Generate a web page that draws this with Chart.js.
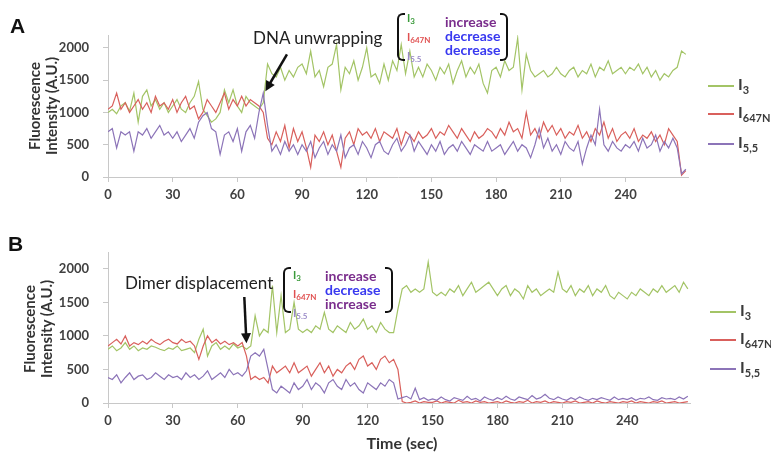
<!DOCTYPE html>
<html>
<head>
<meta charset="utf-8">
<script src="https://cdn.jsdelivr.net/npm/chart.js@4.4.1/dist/chart.umd.min.js"></script>
<style>
body{margin:0;background:#fff;width:771px;height:455px;position:relative;overflow:hidden;font-family:Lato,'Open Sans',sans-serif;color:#333}
canvas{position:absolute;left:0}
.t{position:absolute;white-space:nowrap;line-height:1}
.ytitle{position:absolute;white-space:nowrap;font-weight:bold;font-size:15px;line-height:17px;text-align:center;color:#333;transform:translate(-50%,-50%) rotate(-90deg)}
.leg{position:absolute;width:26px;height:2px}
.legt{position:absolute;font-size:16px;font-weight:bold;color:#3a3a3a;line-height:18px}
.legt sub{font-size:11px;vertical-align:-4px}
.brl,.brr{position:absolute;width:6px;border:2px solid #111}
.brl{border-right:none;border-radius:6px 0 0 6px}
.brr{border-left:none;border-radius:0 6px 6px 0}
.c1{position:absolute;font-size:11px;font-weight:bold;line-height:15px}
.c1 sub{font-size:8px;vertical-align:-2px}
.c2{position:absolute;font-size:14px;font-weight:bold;line-height:14px}
.inc{color:#7a2d8c}.dec{color:#3838f0}
</style>
</head>
<body>
<canvas id="ca" width="771" height="210" style="top:0"></canvas>
<canvas id="cb" width="771" height="245" style="top:210px"></canvas>

<div class="t" style="left:10px;top:14px;font:bold 21px 'Liberation Sans',Arial,sans-serif;color:#111">A</div>
<div class="t" style="left:8px;top:232px;font:bold 21px 'Liberation Sans',Arial,sans-serif;color:#111">B</div>

<div class="ytitle" style="left:43px;top:106px">Fluorescence<br>Intensity (A.U.)</div>
<div class="ytitle" style="left:38px;top:329px">Fluorescence<br>Intensity (A.U.)</div>
<div class="t" style="left:402px;top:443px;transform:translate(-50%,-50%);font-size:16px;font-weight:bold;color:#333">Time (sec)</div>

<!-- panel A notes -->
<div class="t" style="left:253px;top:29px;font-size:17px;color:#222">DNA unwrapping</div>
<div class="brl" style="left:397px;top:13px;height:44px"></div>
<div class="c1" style="left:407px;top:10px"><span style="color:#3a9a3a">I<sub>3</sub></span><br><span style="color:#e05050">I<sub>647N</sub></span><br><span style="color:#9a8ac8">I<sub>5.5</sub></span></div>
<div class="c2" style="left:445px;top:15px"><span class="inc">increase</span><br><span class="dec">decrease</span><br><span class="dec">decrease</span></div>
<div class="brr" style="left:500px;top:13px;height:44px"></div>

<!-- panel B notes -->
<div class="t" style="left:125px;top:274px;font-size:17px;color:#222">Dimer displacement</div>
<div class="brl" style="left:283px;top:267px;height:42px"></div>
<div class="c1" style="left:293px;top:267px"><span style="color:#3a9a3a">I<sub>3</sub></span><br><span style="color:#e05050">I<sub>647N</sub></span><br><span style="color:#9a8ac8">I<sub>5.5</sub></span></div>
<div class="c2" style="left:325px;top:269px"><span class="inc">increase</span><br><span class="dec">decrease</span><br><span class="inc">increase</span></div>
<div class="brr" style="left:385px;top:267px;height:42px"></div>

<!-- legends -->
<div class="leg" style="left:708px;top:85px;background:#a3c466"></div>
<div class="legt" style="left:738px;top:75px">I<sub>3</sub></div>
<div class="leg" style="left:708px;top:113px;background:#d9605c"></div>
<div class="legt" style="left:738px;top:103px">I<sub>647N</sub></div>
<div class="leg" style="left:708px;top:143px;background:#8c74b8"></div>
<div class="legt" style="left:738px;top:133px">I<sub>5,5</sub></div>

<div class="leg" style="left:710px;top:311px;background:#a3c466"></div>
<div class="legt" style="left:740px;top:301px">I<sub>3</sub></div>
<div class="leg" style="left:710px;top:339px;background:#d9605c"></div>
<div class="legt" style="left:740px;top:329px">I<sub>647N</sub></div>
<div class="leg" style="left:710px;top:368px;background:#8c74b8"></div>
<div class="legt" style="left:740px;top:358px">I<sub>5,5</sub></div>

<script>
// samples every 2 s, 0..268 s (one row = 30 s)
const STEP = 2;

const greenA = [
  1000,1050,980,1100,1150,1020,1300,850,1250,1350,1100,1200,1050,1150,1000,
  1100,1200,1050,1000,1150,1250,1480,1050,950,850,900,1000,1350,1150,1350,
  1100,1000,1250,1150,1100,1050,1150,1750,1600,1550,1700,1500,1650,1550,1700,
  1750,1600,1950,1550,1650,1400,1700,1750,2050,1350,1700,1600,1800,1500,1700,
  2000,1550,1600,1450,1750,1500,1800,1650,2050,1600,1950,1550,1700,1550,1750,
  1650,1500,1700,1600,1750,1450,1650,1800,1550,1700,1600,1750,1450,1300,1650,
  1700,1550,1800,1650,1700,2150,1350,1900,1650,1550,1600,1650,1550,1600,1700,
  1600,1550,1650,1700,1550,1650,1600,1750,1550,1700,1650,1800,1600,1650,1700,
  1600,1700,1650,1750,1600,1700,1550,1650,1500,1600,1550,1650,1700,1950,1900
];
const redA = [
  1050,1100,1300,1050,1150,1000,1100,1200,1050,1150,1000,1250,1100,1150,1050,
  1200,1000,1150,1250,1050,1100,900,1000,1200,1100,1000,1150,1300,1050,1200,
  1100,1250,1100,1200,1150,1100,1000,600,500,700,550,800,450,750,550,
  700,450,150,650,550,700,500,650,400,150,600,700,500,750,650,
  700,600,750,550,700,650,600,750,500,700,650,550,700,600,650,
  750,600,700,650,800,700,600,750,650,550,700,600,650,750,700,
  600,750,650,850,700,750,600,1000,650,750,600,850,700,800,650,
  750,600,700,650,800,600,700,550,750,650,850,600,750,550,650,
  700,600,750,550,650,600,700,550,650,500,750,650,550,30,100
];
const purpleA = [
  700,750,450,700,650,700,400,700,650,750,600,700,800,650,700,
  600,700,550,650,750,600,850,950,1000,750,700,350,650,700,550,
  750,400,700,800,600,1000,1300,800,400,500,350,550,400,500,350,
  500,400,550,300,450,550,350,500,400,650,300,450,500,350,550,
  450,300,500,550,400,350,500,600,400,500,650,400,550,450,350,
  500,400,550,350,450,500,400,550,450,350,500,450,400,550,400,
  450,500,350,450,550,400,500,450,300,500,750,450,600,400,500,
  350,550,450,400,550,200,450,650,500,1050,500,400,550,450,400,
  500,450,550,400,600,450,500,650,400,550,450,600,450,50,120
];

const greenB = [
  800,850,780,820,900,800,850,780,820,800,850,830,800,780,820,
  800,850,780,800,820,750,950,1100,700,850,900,800,850,800,880,
  820,850,800,850,1300,1000,1100,1050,1750,1050,1600,1050,1100,1500,1100,
  1050,1100,1050,1150,1100,1350,1100,1050,1150,1100,1050,1200,1100,1150,1250,
  1100,1150,1050,1200,1100,1050,1050,1400,1700,1750,1650,1700,1650,1700,2100,
  1650,1600,1650,1600,1700,1650,1750,1600,1700,1800,1650,1700,1750,1800,1700,
  1600,1700,1750,1600,1700,1650,1550,1750,1650,1700,1600,1650,1700,1650,1950,
  1700,1650,1750,1600,1700,1650,1750,1600,1700,1650,1750,1600,1550,1650,1600,
  1550,1650,1600,1700,1650,1600,1700,1650,1750,1650,1700,1750,1650,1800,1700
];
const redB = [
  850,900,950,880,1000,850,900,870,920,880,950,900,870,920,950,
  900,880,950,900,920,850,650,850,1000,900,950,880,920,870,900,
  850,900,700,350,400,350,380,300,550,450,500,550,450,600,450,
  500,550,400,500,600,450,550,400,500,450,550,600,500,650,700,
  550,600,500,650,700,600,650,500,20,0,10,30,0,20,10,
  10,30,0,20,10,0,40,10,20,0,30,10,20,0,10,
  20,0,30,10,0,20,10,40,0,20,10,30,0,20,10,
  0,20,10,30,0,10,20,0,30,10,0,20,10,0,20,
  10,30,0,20,10,0,20,10,30,0,10,20,0,10,20
];
const purpleB = [
  380,350,420,300,380,450,350,400,420,350,380,450,400,350,420,
  380,400,350,450,380,420,350,400,480,350,400,450,380,500,420,
  450,400,480,700,750,700,800,500,200,150,250,200,150,300,200,
  250,350,200,300,250,150,300,350,250,200,350,250,300,200,150,
  300,250,200,300,250,350,300,60,80,100,60,220,50,80,40,
  60,40,90,50,30,80,60,40,100,50,70,30,90,60,40,
  80,50,100,60,40,90,70,50,110,60,80,130,70,50,90,
  60,40,80,50,90,60,40,70,50,80,60,40,90,50,70,
  50,80,40,70,60,90,50,40,80,60,70,50,90,60,100
];

const xTicks = [0,30,60,90,120,150,180,210,240];
const yTicks = [0,500,1000,1500,2000];
const colGreen = '#a3c466', colRed = '#d9605c', colPurple = '#8c74b8';

const arrowPlugin = {
  id:'arrow',
  afterDatasetsDraw(chart, args, o){
    if(!o.from) return;
    const {x, y} = chart.scales, ctx = chart.ctx;
    const x1 = x.getPixelForValue(o.from[0]), y1 = y.getPixelForValue(o.from[1]);
    const x2 = x.getPixelForValue(o.to[0]), y2 = y.getPixelForValue(o.to[1]);
    const a = Math.atan2(y2-y1, x2-x1), L = 10, W = 5;
    ctx.save();
    ctx.strokeStyle = '#111'; ctx.fillStyle = '#111'; ctx.lineWidth = 2.5;
    ctx.beginPath(); ctx.moveTo(x1,y1);
    ctx.lineTo(x2-Math.cos(a)*L*0.8, y2-Math.sin(a)*L*0.8); ctx.stroke();
    ctx.beginPath(); ctx.moveTo(x2,y2);
    ctx.lineTo(x2-Math.cos(a)*L+Math.sin(a)*W, y2-Math.sin(a)*L-Math.cos(a)*W);
    ctx.lineTo(x2-Math.cos(a)*L-Math.sin(a)*W, y2-Math.sin(a)*L+Math.cos(a)*W);
    ctx.closePath(); ctx.fill();
    ctx.restore();
  }
};

function line(vals, color){
  return {data: vals.map((v,i)=>({x:i*STEP, y:v})), borderColor:color, borderWidth:1.2,
          pointRadius:0, tension:0, fill:false};
}

function panel(id, sets, ymax, pad, xh, arrow){
  const tickFont = {family:'Lato', weight:'bold', size:13};
  return new Chart(document.getElementById(id), {
    type:'line',
    data:{datasets: sets},
    options:{
      responsive:false, animation:false, events:[],
      layout:{padding:pad},
      plugins:{legend:{display:false}, tooltip:{enabled:false}, arrow},
      scales:{
        x:{type:'linear', min:0, max:269,
           ticks:{stepSize:30, color:'#404040', font:tickFont, padding:5, maxRotation:0, callback:v=>String(v)},
           grid:{drawOnChartArea:false, color:'#c8c8c8', tickLength:5},
           border:{color:'#c8c8c8'},
           afterBuildTicks: ax=>{ ax.ticks = xTicks.map(v=>({value:v})); },
           afterFit: ax=>{ ax.height = xh; }},
        y:{min:0, max:ymax,
           ticks:{stepSize:500, color:'#404040', font:tickFont, padding:14, callback:v=>String(v)},
           grid:{drawOnChartArea:false, color:'#c8c8c8', tickLength:5},
           border:{color:'#c8c8c8'},
           afterBuildTicks: ax=>{ ax.ticks = yTicks.map(v=>({value:v})); },
           afterFit: ax=>{ ax.width = 108; }}
      }
    },
    plugins:[arrowPlugin]
  });
}

// purple drawn on top, green at the bottom
panel('ca', [line(purpleA,colPurple), line(redA,colRed), line(greenA,colGreen)],
      2200, {left:0, right:83, top:35, bottom:0}, 33,
      {from:[83,1900], to:[73,1330]});
panel('cb', [line(purpleB,colPurple), line(redB,colRed), line(greenB,colGreen)],
      2250, {left:0, right:81, top:42, bottom:0}, 52,
      {from:[63,1580], to:[64,890]});
</script>
</body>
</html>
